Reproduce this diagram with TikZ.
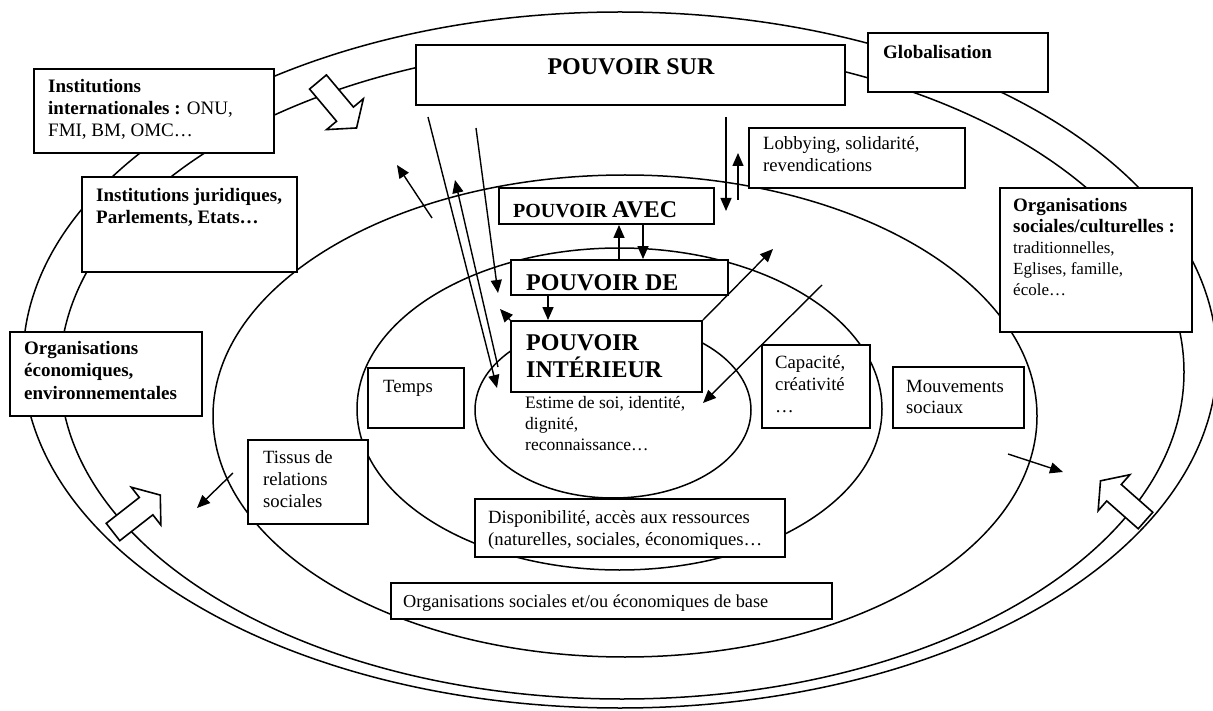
\documentclass[tikz,border=0pt]{standalone}
\usepackage{fontspec}
\setmainfont{Liberation Serif}
\usetikzlibrary{arrows.meta}
\newcommand\bx[5]{\node[boxst, minimum width={#4-#2}, minimum height={#5-#3}] (#1) at ({(#2+#4)/2},{(#3+#5)/2}) {};}
\newcommand\blockarrow[4]{\begin{scope}[shift={(#2,#3)}, rotate=#4]
  \draw[blk] (0,-11) -- (42,-11) -- (42,-24) -- (60,0) -- (42,24) -- (42,11) -- (0,11) -- cycle;
\end{scope}}
\begin{document}
\begin{tikzpicture}[x=1pt,y=-1pt,
  ell/.style={line width=1.5pt},
  boxst/.style={draw, line width=1.9pt, fill=white, inner sep=0pt},
  arr/.style={line width=1.4pt, -{Triangle[length=13pt,width=11pt]}},
  blk/.style={draw, line width=1.6pt, fill=white, miter limit=10},
  tx/.style={anchor=base west, inner sep=0pt},
]
\useasboundingbox (0,0) rectangle (1213,711);
% ellipses
\draw[ell] (620,360) ellipse [x radius=597pt, y radius=348pt];
\draw[ell] (622,372) ellipse [x radius=562pt, y radius=327pt];
\draw[ell] (625,416) ellipse [x radius=412pt, y radius=241pt];
\draw[ell] (619.5,409) ellipse [x radius=262.5pt, y radius=161pt];
\draw[ell] (613,410) ellipse [x radius=138pt, y radius=88pt];
% hollow block arrows
\blockarrow{h1}{318}{82}{-50}
\blockarrow{h2}{113}{532}{38}
\blockarrow{h3}{1145.5}{520.5}{138.6}
% boxes
\bx{intl}{34}{69}{274}{153}
\bx{jurid}{82}{177}{297}{272}
\bx{sur}{416}{45}{845}{105}
\bx{glob}{868}{33}{1048}{92}
\bx{lobby}{749}{128}{965}{188}
\bx{avec}{499}{188}{714}{224}
\bx{de}{511}{260}{728}{295}
\bx{inter}{511}{321}{702}{392}
\bx{orgsoc}{1000}{188}{1192}{332}
\bx{orgeco}{10}{332}{202}{416}
\bx{temps}{368}{368}{464}{428}
\bx{tissus}{248}{440}{368}{524}
\bx{capa}{762}{345}{870}{428}
\bx{mouv}{893}{367}{1024}{428}
\bx{dispo}{475}{499}{785}{557}
\bx{base}{391}{583}{832}{619}
% texts
\node[tx] (intlT) at (48,93) {\parbox[t]{300pt}{\raggedright\fontsize{19}{22}\selectfont\textbf{Institutions}\\\textbf{internationales :} ONU,\\FMI, BM, OMC…}};
\node[tx] (juridT) at (96,202) {\parbox[t]{300pt}{\raggedright\fontsize{19}{21.5}\selectfont\bfseries Institutions juridiques,\\Parlements, Etats…}};
\node[anchor=base, inner sep=0pt] (surT) at (631,75) {\fontsize{24}{28}\selectfont\bfseries POUVOIR SUR};
\node[tx] (globT) at (883,59) {\fontsize{19}{22}\selectfont\bfseries Globalisation};
\node[tx] (lobbyT) at (763,150) {\parbox[t]{300pt}{\raggedright\fontsize{18.7}{22}\selectfont Lobbying, solidarité,\\revendications}};
\node[tx] (avecT) at (513,218) {\bfseries\fontsize{20}{24}\selectfont POUVOIR \fontsize{24}{28}\selectfont AVEC};
\node[tx] (deT) at (526,291) {\fontsize{24}{28}\selectfont\bfseries POUVOIR DE};
\node[tx] (interT) at (526,350) {\parbox[t]{300pt}{\raggedright\fontsize{24}{28}\selectfont\bfseries POUVOIR\\INTÉRIEUR}};
\node[tx] (estT) at (525,408) {\parbox[t]{300pt}{\raggedright\fontsize{17.5}{21}\selectfont Estime de soi, identité,\\dignité,\\reconnaissance…}};
\node[tx] (orgsocT) at (1013,212) {\parbox[t]{300pt}{\raggedright\fontsize{19}{21}\selectfont\textbf{Organisations}\\\textbf{sociales/culturelles :}\\\fontsize{17}{21}\selectfont traditionnelles,\\Eglises, famille,\\école…}};
\node[tx] (orgecoT) at (24,355) {\parbox[t]{300pt}{\raggedright\fontsize{19}{22}\selectfont\bfseries Organisations\\économiques,\\environnementales}};
\node[tx] (tempsT) at (383,392) {\fontsize{18.7}{22}\selectfont Temps};
\node[tx] (tissusT) at (263,463) {\parbox[t]{300pt}{\raggedright\fontsize{18.7}{22}\selectfont Tissus de\\relations\\sociales}};
\node[tx] (capaT) at (775,368) {\parbox[t]{300pt}{\raggedright\fontsize{18.7}{22}\selectfont Capacité,\\créativité\\…}};
\node[tx] (mouvT) at (906,392) {\parbox[t]{300pt}{\raggedright\fontsize{18.7}{21}\selectfont Mouvements\\sociaux}};
\node[tx] (dispoT) at (488,523) {\parbox[t]{400pt}{\raggedright\fontsize{18.7}{22}\selectfont Disponibilité, accès aux ressources\\(naturelles, sociales, économiques…}};
\node[tx] (baseT) at (403,607) {\fontsize{18.3}{22}\selectfont Organisations sociales et/ou économiques de base};
% arrow end points
\coordinate (a1s) at (432,218); \coordinate (a1e) at (397,165);
\coordinate (a2s) at (428,117); \coordinate (a2e) at (497,388);
\coordinate (a2bs) at (498,367); \coordinate (a2be) at (455,180);
\coordinate (a3s) at (476,128); \coordinate (a3e) at (498,293);
\coordinate (a4e) at (500,309);
\coordinate (a7s) at (726,117); \coordinate (a7e) at (726,211);
\coordinate (a7bs) at (738,200); \coordinate (a7be) at (738,153);
\coordinate (a8e) at (773,249);
\coordinate (a9s) at (822,285); \coordinate (a9e) at (703,403);
\coordinate (a10s) at (233,473); \coordinate (a10e) at (197,508);
\coordinate (a11s) at (1008,454); \coordinate (a11e) at (1063,472);
% arrows
\draw[arr] (a1s) -- (a1e);
\draw[arr] (a2s) -- (a2e);
\draw[arr] (a2bs) -- (a2be);
\draw[arr] (a3s) -- (a3e);
\draw[arr] (inter.north west) -- (a4e);
\draw[arr] (619,0 |- de.north) -- (619,0 |- avec.south);
\draw[arr] (643,0 |- avec.south) -- (643,0 |- de.north);
\draw[arr] (548,0 |- de.south) -- (548,0 |- inter.north);
\draw[arr] (a7s) -- (a7e);
\draw[arr] (a7bs) -- (a7be);
\draw[arr] (inter.north east) -- (a8e);
\draw[arr] (a9s) -- (a9e);
\draw[arr] (a10s) -- (a10e);
\draw[arr] (a11s) -- (a11e);
\end{tikzpicture}
\end{document}
